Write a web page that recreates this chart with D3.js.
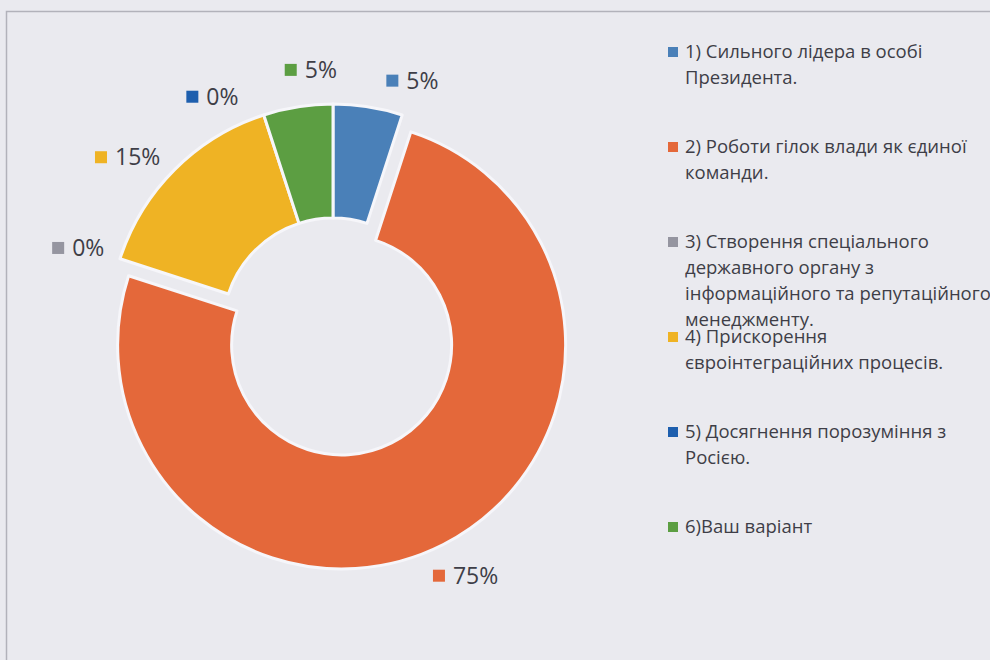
<!doctype html>
<html>
<head>
<meta charset="utf-8">
<title>Donut</title>
<script src="https://cdn.jsdelivr.net/npm/d3@7"></script>
<style>
  body { margin: 0; background: #eaeaef; }
  svg { display: block; font-family: "Open Sans", "Noto Sans", sans-serif; }
</style>
</head>
<body>
<svg id="chart" width="990" height="660"></svg>
<script>
// data
var categories = [
  "1) Сильного лідера в особі\nПрезидента.",
  "2) Роботи гілок влади як єдиної\nкоманди.",
  "3) Створення спеціального\nдержавного органу з\nінформаційного та репутаційного\nменеджменту.",
  "4) Прискорення\nєвроінтеграційних процесів.",
  "5) Досягнення порозуміння з\nРосією.",
  "6)Ваш варіант"
];
var values = [5, 75, 0, 15, 0, 5];
var colors = ["#4a80b8", "#e4683a", "#9595a0", "#efb324", "#1e5fae", "#5c9e42"];

// layout
var W = 990, H = 660,
    cx = 333, cy = 328,
    outerR = 224, innerR = 110,
    explodeIndex = 1, explodeBy = 19,
    textColor = "#3e3e47";

var data = values.map(function(v, i) {
  return {name: categories[i], value: v, color: colors[i], i: i};
});

var svg = d3.select("#chart");

svg.append("rect")
  .attr("width", W).attr("height", H)
  .attr("fill", "#eaeaef");

// outer frame (runs off the right and bottom)
svg.append("rect")
  .attr("x", 6.5).attr("y", 11.5)
  .attr("width", 1000).attr("height", 700)
  .attr("fill", "none")
  .attr("stroke", "#b2b2ba")
  .attr("stroke-width", 1.5);

var pie = d3.pie().sort(null).value(function(d) { return d.value; });
var arcs = pie(data);

var arc = d3.arc().innerRadius(innerR).outerRadius(outerR);

function shift(a) {
  if (a.index !== explodeIndex) return [0, 0];
  var m = (a.startAngle + a.endAngle) / 2;
  return [Math.sin(m) * explodeBy, -Math.cos(m) * explodeBy];
}

var g = svg.append("g").attr("transform", "translate(" + cx + "," + cy + ")");

g.selectAll("path")
  .data(arcs.filter(function(a) { return a.value > 0; }))
  .enter().append("path")
  .attr("d", arc)
  .attr("transform", function(a) { var s = shift(a); return "translate(" + s[0] + "," + s[1] + ")"; })
  .attr("fill", function(a) { return a.data.color; })
  .attr("stroke", "#f6f6fa")
  .attr("stroke-width", 3)
  .attr("stroke-linejoin", "round");

// data labels: spread the angles a little so they don't collide
var lab = arcs.map(function(a) {
  var m = (a.startAngle + a.endAngle) / 2 * 180 / Math.PI;
  if (m < 90) m += 360;
  return {a: a, ang: m};
});
var sorted = lab.slice().sort(function(p, q) { return p.ang - q.ang; });
var minGap = 22;
for (var it = 0; it < 300; it++) {
  for (var k = 1; k < sorted.length; k++) {
    var gap = sorted[k].ang - sorted[k - 1].ang;
    if (gap < minGap) {
      var push = (minGap - gap) / 2;
      sorted[k].ang += push;
      sorted[k - 1].ang -= push;
    }
  }
}

var labelG = svg.append("g").style("font-size", "23px").attr("fill", textColor);
lab.forEach(function(l) {
  var grp = labelG.append("g");
  var t = grp.append("text")
    .attr("x", 20).attr("y", 0)
    .attr("dy", "0.35em")
    .text(d3.format(".0%")(l.a.value / d3.sum(values)));
  var tw = t.node().getComputedTextLength();
  var w = 20 + tw, h = 24;
  grp.append("rect")
    .attr("x", 0).attr("y", -6)
    .attr("width", 12).attr("height", 12)
    .attr("fill", l.a.data.color);
  var r = l.ang * Math.PI / 180;
  var dx = Math.sin(r), dy = -Math.cos(r);
  var s = shift(l.a);
  var rr = outerR + 23;
  var mx = cx + s[0] + dx * rr + dx * w * 0.4,
      my = cy + s[1] + dy * rr + dy * h / 2;
  grp.attr("transform", "translate(" + (mx - w / 2) + "," + my + ")");
});

// legend
var legend = svg.append("g")
  .attr("transform", "translate(668,52)")
  .style("font-size", "18.5px")
  .attr("fill", textColor);

var item = legend.selectAll("g")
  .data(data)
  .enter().append("g")
  .attr("transform", function(d, i) { return "translate(0," + (i * 95) + ")"; });

item.append("rect")
  .attr("x", 0).attr("y", -5)
  .attr("width", 10).attr("height", 10)
  .attr("fill", function(d) { return d.color; });

item.append("text")
  .attr("x", 17)
  .each(function(d) {
    var el = d3.select(this);
    d.name.split("\n").forEach(function(line, j) {
      el.append("tspan")
        .attr("x", 17)
        .attr("y", j * 26)
        .attr("dy", "0.35em")
        .text(line);
    });
  });
</script>
</body>
</html>
